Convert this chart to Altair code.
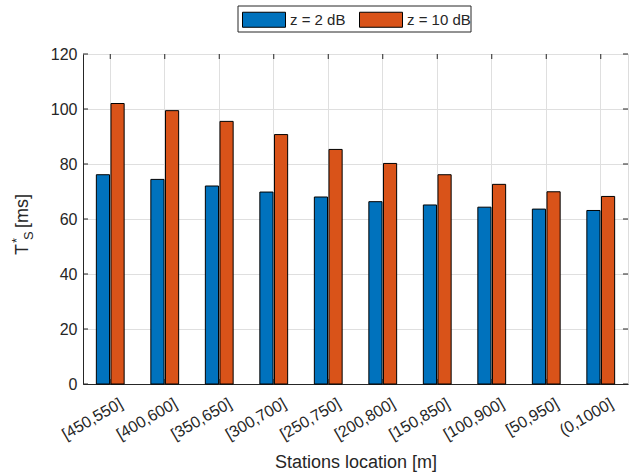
import altair as alt
import pandas as pd

categories = ["[450,550]", "[400,600]", "[350,650]", "[300,700]", "[250,750]",
              "[200,800]", "[150,850]", "[100,900]", "[50,950]", "(0,1000]"]
series = ["z = 2 dB", "z = 10 dB"]
values_z2 = [76.1, 74.4, 72.0, 69.8, 68.0, 66.3, 65.1, 64.3, 63.6, 63.1]
values_z10 = [102.0, 99.4, 95.5, 90.7, 85.3, 80.2, 76.1, 72.6, 69.9, 68.2]
colors = ["#0072BD", "#D95319"]
y_ticks = [0, 20, 40, 60, 80, 100, 120]

rows = []
for c, a, b in zip(categories, values_z2, values_z10):
    rows.append({"loc": c, "series": series[0], "T": a})
    rows.append({"loc": c, "series": series[1], "T": b})
df = pd.DataFrame(rows)

W, H = 545, 330
TXT = "#262626"
GRID = "#dfdfdf"
FONT = "Liberation Sans"

xscale = alt.Scale(domain=categories, paddingInner=0.49, paddingOuter=0.245)
yscale = alt.Scale(domain=[0, 120], nice=False)

bars = alt.Chart(df).mark_bar(stroke="black", strokeWidth=1).encode(
    x=alt.X("loc:N", scale=xscale, sort=categories, axis=alt.Axis(
        title="Stations location [m]", labelAngle=-30, labelAlign="right",
        labelBaseline="top", labelPadding=11, labelOffset=7, ticks=False,
        grid=True, bandPosition=0.5, gridColor=GRID, domainColor=TXT,
        labelColor=TXT, titleColor=TXT, labelFontSize=16, titleFontSize=18,
        titleFontWeight="normal", titlePadding=11, labelFont=FONT, titleFont=FONT)),
    xOffset=alt.XOffset("series:N", sort=series,
                        scale=alt.Scale(domain=series, paddingInner=0.1, paddingOuter=0)),
    y=alt.Y("T:Q", scale=yscale, axis=alt.Axis(
        title=None, values=y_ticks, ticks=False, labelPadding=6, grid=True,
        gridColor=GRID, domainColor=TXT, labelColor=TXT, labelFontSize=16,
        labelFont=FONT)),
    color=alt.Color("series:N", sort=series,
                    scale=alt.Scale(domain=series, range=colors),
                    legend=alt.Legend(
                        title=None, orient="none", legendX=159, legendY=-56.5,
                        direction="horizontal",
                        symbolType="M-1,-0.349H1V0.349H-1Z", symbolSize=1849,
                        symbolStrokeColor="black", symbolStrokeWidth=1,
                        symbolOpacity=1, labelFontSize=15, labelOffset=4,
                        columnPadding=11, padding=0, labelColor=TXT,
                        labelFont=FONT)),
)

# inward tick marks (MATLAB style box axes)
ytick_df = pd.DataFrame({"v": y_ticks})
yt_left = alt.Chart(ytick_df).mark_rule(color=TXT, strokeWidth=1).encode(
    y=alt.Y("v:Q", scale=yscale), x=alt.value(0), x2=alt.value(5))
yt_right = alt.Chart(ytick_df).mark_rule(color=TXT, strokeWidth=1).encode(
    y=alt.Y("v:Q", scale=yscale), x=alt.value(W), x2=alt.value(W - 5))
xtick_df = pd.DataFrame({"loc": categories})
xt_bottom = alt.Chart(xtick_df).mark_rule(color=TXT, strokeWidth=1).encode(
    x=alt.X("loc:N", scale=xscale, sort=categories), y=alt.value(H), y2=alt.value(H - 5))
xt_top = alt.Chart(xtick_df).mark_rule(color=TXT, strokeWidth=1).encode(
    x=alt.X("loc:N", scale=xscale, sort=categories), y=alt.value(0), y2=alt.value(5))

# legend box
box = alt.Chart(pd.DataFrame({"b": [0]})).mark_rect(
    fillOpacity=0, stroke=TXT, strokeWidth=1).encode(
    x=alt.value(155), x2=alt.value(388), y=alt.value(-48), y2=alt.value(-22))

# y-axis title: T^*_S [ms]
def ytxt(s, x, y, size):
    return alt.Chart(pd.DataFrame({"s": [s]})).mark_text(
        angle=270, align="left", baseline="alphabetic", fontSize=size,
        font=FONT, color=TXT).encode(
        text="s:N", x=alt.value(x), y=alt.value(y))

ytitle = (ytxt("T", -55, 201, 18) + ytxt("*", -62, 189, 13)
          + ytxt("S", -50, 186, 13) + ytxt(" [ms]", -55, 174, 18))

chart = alt.layer(bars, yt_left, yt_right, xt_bottom, xt_top, box, ytitle).properties(
    width=W, height=H,
    autosize=alt.AutoSizeParams(type="none"),
    padding={"left": 83, "top": 54, "right": 7, "bottom": 89},
).configure_view(stroke=TXT, strokeWidth=1).configure(font=FONT)

chart.save("out.html", embed_options={"renderer": "svg", "actions": False})
